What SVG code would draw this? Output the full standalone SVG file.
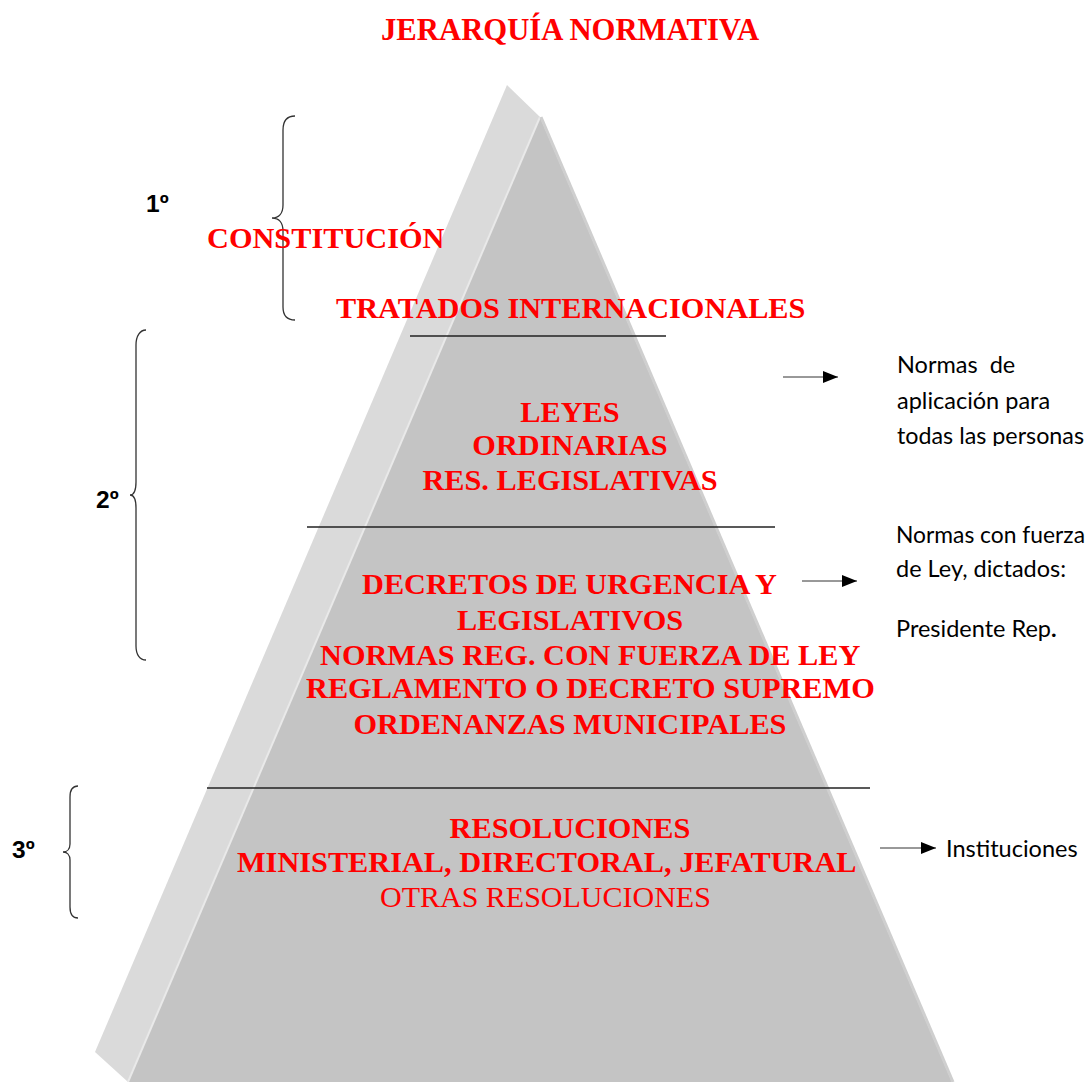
<svg xmlns="http://www.w3.org/2000/svg" width="1090" height="1082" viewBox="0 0 1090 1082">
<style>
.red{font-family:"Liberation Serif","Times New Roman",serif;font-weight:bold;font-size:30.3px;fill:#ff0000}
.redn{font-family:"Liberation Serif","Times New Roman",serif;font-size:30px;fill:#ff0000}
.note{font-family:Lato,"Open Sans",sans-serif;font-size:23.5px;fill:#000}
.lvl{font-family:"Liberation Sans",Arial,sans-serif;font-size:24.5px;font-weight:bold;fill:#000}
.brace{fill:none;stroke:#333;stroke-width:1.3}
.sep{stroke:#222;stroke-width:1.3}
.conn{stroke:#333;stroke-width:1}
</style>
<defs>
<marker id="ah" viewBox="0 0 15 12" refX="15" refY="6" markerWidth="15" markerHeight="12" markerUnits="userSpaceOnUse" orient="auto">
<path d="M0,0 L15,6 L0,12 Z" fill="#000"/>
</marker>
<clipPath id="clipA"><rect x="880" y="340" width="210" height="106"/></clipPath>
</defs>
<rect width="1090" height="1082" fill="#fff"/>
<g id="pyramid">
<polygon points="507,85 540,117 128,1082 95,1052" fill="#dadada"/>
<polygon points="540,117 952,1082 128,1082" fill="#c4c4c4"/>
<line x1="540" y1="117" x2="128" y2="1082" stroke="#e9e9e9" stroke-width="2"/>
<line x1="541" y1="117" x2="953" y2="1082" stroke="#cfcfcf" stroke-width="3"/>
</g>
<g id="separators">
<line class="sep" x1="410" y1="336" x2="666" y2="336"/>
<line class="sep" x1="307" y1="527" x2="775" y2="527"/>
<line class="sep" x1="207" y1="788" x2="870" y2="788"/>
</g>
<text id="title" class="red" x="381" y="40" style="font-size:30.7px">JERARQUÍA NORMATIVA</text>
<g id="level1">
<path class="brace" d="M295,116 C287,116 283,121 283,130 L283,205 C283,213 279,218 272,218 C279,218 283,223 283,231 L283,307 C283,316 287,320 295,320"/>
<text class="lvl" x="146" y="212">1º</text>
</g>
<g id="level2">
<path class="brace" d="M146,330 C140,330 136,336 136,345 L136,482 C136,490 134,495 130,495 C134,495 136,500 136,508 L136,646 C136,655 140,660 146,660"/>
<text class="lvl" x="96" y="508">2º</text>
</g>
<g id="level3">
<path class="brace" d="M78,786 C73,786 70,790 70,797 L70,844 C70,849 67,852 63,852 C67,852 70,855 70,860 L70,907 C70,914 73,918 78,918"/>
<text class="lvl" x="12" y="858">3º</text>
</g>
<g id="constitucion">
<text class="red" x="207" y="248">CONSTITUCIÓN</text>
</g>
<g id="tratados">
<text class="red" x="336" y="318">TRATADOS INTERNACIONALES</text>
</g>
<g id="leyes">
<text class="red" x="570" y="422" text-anchor="middle">LEYES</text>
<text class="red" x="570" y="455" text-anchor="middle">ORDINARIAS</text>
<text class="red" x="570" y="490" text-anchor="middle">RES. LEGISLATIVAS</text>
</g>
<g id="decretos">
<text class="red" x="362" y="594">DECRETOS DE URGENCIA Y</text>
<text class="red" x="570" y="630" text-anchor="middle">LEGISLATIVOS</text>
<text class="red" x="320" y="665">NORMAS REG. CON FUERZA DE LEY</text>
<text class="red" x="306" y="698">REGLAMENTO O DECRETO SUPREMO</text>
<text class="red" x="570" y="734" text-anchor="middle">ORDENANZAS MUNICIPALES</text>
</g>
<g id="resoluciones">
<text class="red" x="570" y="838" text-anchor="middle">RESOLUCIONES</text>
<text class="red" x="237" y="872">MINISTERIAL, DIRECTORAL, JEFATURAL</text>
<text class="redn" x="380" y="907">OTRAS RESOLUCIONES</text>
</g>
<g id="note1" clip-path="url(#clipA)">
<text class="note" x="897" y="373" xml:space="preserve">Normas  de</text>
<text class="note" x="897" y="409">aplicación para</text>
<text class="note" x="897" y="444" textLength="187" lengthAdjust="spacingAndGlyphs">todas las personas</text>
</g>
<g id="note2">
<text class="note" x="896" y="543" textLength="189" lengthAdjust="spacingAndGlyphs">Normas con fuerza</text>
<text class="note" x="896" y="577">de Ley, dictados:</text>
<text class="note" x="896" y="637">Presidente Rep<tspan font-weight="bold">.</tspan></text>
</g>
<g id="note3">
<text class="note" x="946" y="857">Instituciones</text>
</g>
<g id="connectors">
<line class="conn" x1="783" y1="377" x2="838" y2="377" marker-end="url(#ah)"/>
<line class="conn" x1="802" y1="581" x2="857" y2="581" marker-end="url(#ah)"/>
<line class="conn" x1="880" y1="848" x2="936" y2="848" marker-end="url(#ah)"/>
</g>
</svg>
